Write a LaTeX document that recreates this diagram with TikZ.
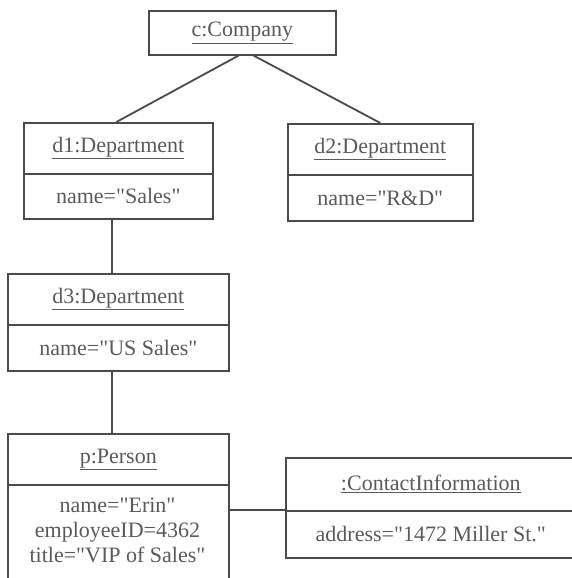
\documentclass[tikz,border=0pt]{standalone}
\usepackage{fontspec}
\setmainfont{Liberation Serif}[Ligatures=TeXOff]
\usetikzlibrary{calc}
\definecolor{ink}{HTML}{4A4A4A}
\definecolor{txt}{HTML}{5A5A5A}
\begin{document}
\begin{tikzpicture}[x=1pt,y=-1pt,
  part/.style={draw=ink, line width=1.6pt, inner sep=0pt, anchor=north west,
               text=txt, font=\fontsize{22}{25}\selectfont, align=center},
  link/.style={draw=ink, line width=1.8pt}]
\useasboundingbox (0,0) rectangle (571,578);
\fill[white] (0,0) rectangle (571,578);
% object c
\node[part, minimum width=187pt, minimum height=44pt] (c) at (148,10) {\underline{c:Company}};
% object d1
\node[part, minimum width=189pt, minimum height=51pt] (d1) at (23,122) {\underline{d1:Department}};
\node[part, minimum width=189pt, minimum height=45pt] (d1a) at (23,173) {name="Sales"};
% object d2
\node[part, minimum width=185pt, minimum height=51pt] (d2) at (287,123) {\underline{d2:Department}};
\node[part, minimum width=185pt, minimum height=46pt] (d2a) at (287,174) {name="R\&D"};
% object d3
\node[part, minimum width=221pt, minimum height=51pt] (d3) at (7,273) {\underline{d3:Department}};
\node[part, minimum width=221pt, minimum height=46pt] (d3a) at (7,324) {name="US Sales"};
% object p
\node[part, minimum width=221pt, minimum height=51pt] (p) at (7,433) {\underline{p:Person}};
\node[part, minimum width=221pt, minimum height=100pt] (pa) at (7,484) {};
\node[text=txt, font=\fontsize{22}{25}\selectfont, align=center, anchor=north]
  (patt) at (117.5,494) {name="Erin"\\employeeID=4362\\title="VIP of Sales"};
% contact information
\node[part, minimum width=290pt, minimum height=53pt] (ci) at (285,457) {\underline{:ContactInformation}};
\node[part, minimum width=290pt, minimum height=47pt] (cia) at (285,510) {address="1472 Miller St."};
% link end points
\coordinate (d1b) at ($(d1a.south west)!0.465!(d1a.south east)$);
\coordinate (d3b) at ($(d3a.south west)!0.47!(d3a.south east)$);
% links
\draw[link] ($(c.south west)!0.48!(c.south east)$) -- ($(d1.north west)!0.49!(d1.north east)$);
\draw[link] ($(c.south west)!0.56!(c.south east)$) -- ($(d2.north west)!0.50!(d2.north east)$);
\draw[link] (d1b) -- (d1b |- d3.north);
\draw[link] (d3b) -- (d3b |- p.north);
\draw[link] (pa.east |- cia.north west) -- (cia.north west);
\end{tikzpicture}
\end{document}
